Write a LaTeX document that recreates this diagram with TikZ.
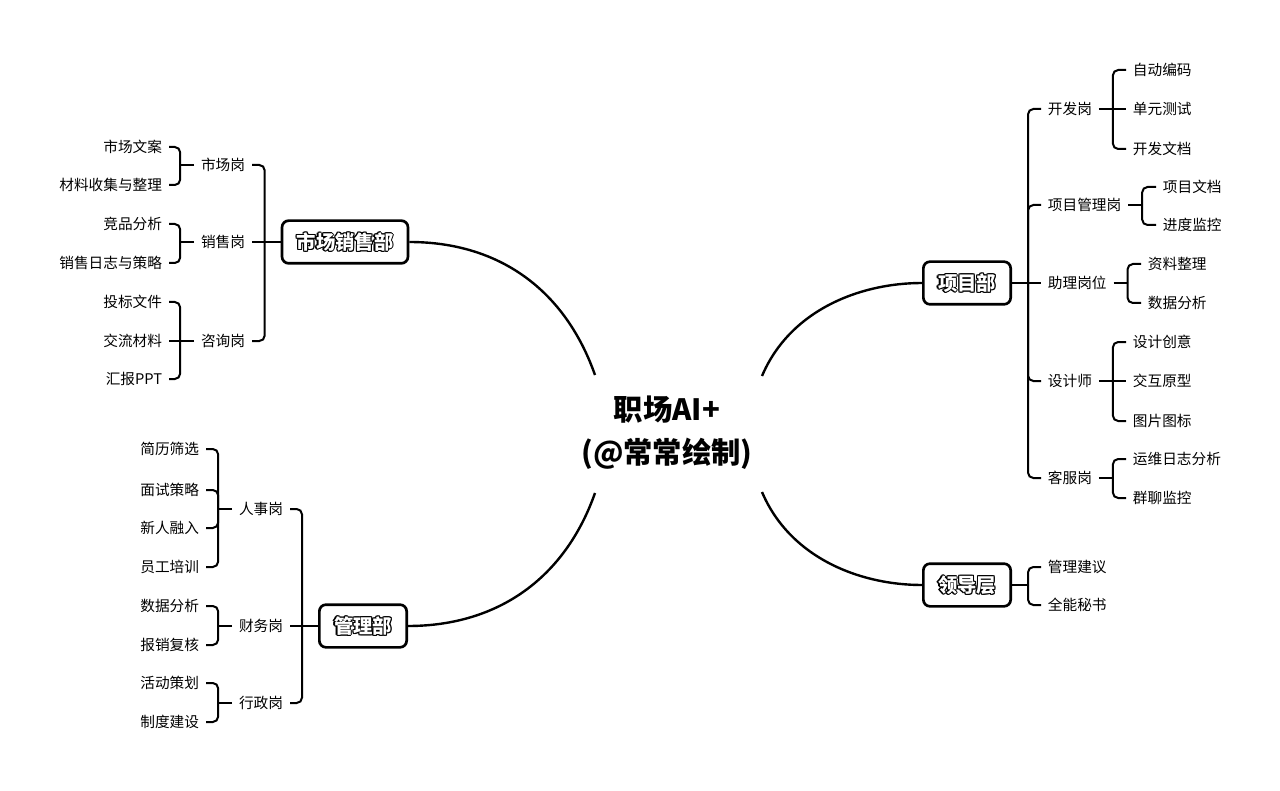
\documentclass[tikz,border=0pt]{standalone}
\usepackage{fontspec}
\setmainfont{Noto Sans CJK SC}
\usetikzlibrary{calc}

% white letters with a black rim
\newcommand{\rimtext}[1]{%
  \rlap{\kern-0.9pt#1}\rlap{\kern0.9pt#1}%
  \rlap{\raisebox{0.9pt}{#1}}\rlap{\raisebox{-0.9pt}{#1}}%
  \rlap{\kern-0.65pt\raisebox{0.65pt}{#1}}\rlap{\kern0.65pt\raisebox{0.65pt}{#1}}%
  \rlap{\kern-0.65pt\raisebox{-0.65pt}{#1}}\rlap{\kern0.65pt\raisebox{-0.65pt}{#1}}%
  \textcolor{white}{#1}}

\begin{document}
\begin{tikzpicture}[x=0.75pt, y=-0.75pt,
  every node/.style={font=\fontsize{11}{13}\selectfont, inner xsep=5pt, inner ysep=2pt},
  dept/.style={draw, line width=2pt, rounded corners=5pt, minimum height=32pt, inner xsep=11pt, font=\fontsize{14.5}{16}\selectfont\bfseries},
  lt/.style={anchor=east},
  rt/.style={anchor=west},
  link/.style={line width=1.5pt, rounded corners=4pt},
  branch/.style={line width=1.8pt}]

\fill[white] (0,0) rectangle (1280,791);
\path[use as bounding box] (0,0) rectangle (1280,791);

% Centre
\node[font=\fontsize{22}{32}\selectfont\bfseries, align=center] (root) at (667,433) {职场AI+\\(@常常绘制)};
\coordinate (rootNW) at ($(root.center)+(-72,-58)$);
\coordinate (rootSW) at ($(root.center)+(-72,60)$);
\coordinate (rootNE) at ($(root.center)+(95,-57)$);
\coordinate (rootSE) at ($(root.center)+(95,59)$);

% Departments
\node[dept] (mkt) at (345,242) {\rimtext{市场销售部}};
\node[dept] (mgmt) at (363,626) {\rimtext{管理部}};
\node[dept] (proj) at (967,283) {\rimtext{项目部}};
\node[dept] (lead) at (967,585) {\rimtext{领导层}};

% Centre to departments
\draw[branch] (mkt.east) .. controls +(90,0) and +(-30,-85) .. (rootNW);
\draw[branch] (mgmt.east) .. controls +(90,0) and +(-30,85) .. (rootSW);
\draw[branch] (proj.west) .. controls +(-62,0) and +(28,-66) .. (rootNE);
\draw[branch] (lead.west) .. controls +(-62,0) and +(28,66) .. (rootSE);

% Marketing and sales
\node[lt] (mkt1) at (252,165) {市场岗};
\node[lt] (mkt2) at (252,242) {销售岗};
\node[lt] (mkt3) at (252,341) {咨询岗};

\node[lt] (mkt1a) at (169,147) {市场文案};
\node[lt] (mkt1b) at (169,185) {材料收集与整理};
\node[lt] (mkt2a) at (169,224) {竞品分析};
\node[lt] (mkt2b) at (169,263) {销售日志与策略};
\node[lt] (mkt3a) at (169,302) {投标文件};
\node[lt] (mkt3b) at (169,341) {交流材料};
\node[lt] (mkt3c) at (169,379) {汇报PPT};

\draw[link] (mkt.west) -- ++(-16,0) coordinate (mktj);
\draw[link] (mktj) |- (mkt1.east);
\draw[link] (mktj) -- (mkt2.east);
\draw[link] (mktj) |- (mkt3.east);

\draw[link] (mkt1.west) -- ++(-14,0) coordinate (mkt1j);
\draw[link] (mkt2.west) -- ++(-14,0) coordinate (mkt2j);
\draw[link] (mkt3.west) -- ++(-14,0) coordinate (mkt3j);
\foreach \c in {a,b} \draw[link] (mkt1j) |- (mkt1\c.east);
\foreach \c in {a,b} \draw[link] (mkt2j) |- (mkt2\c.east);
\draw[link] (mkt3j) |- (mkt3a.east);
\draw[link] (mkt3j) -- (mkt3b.east);
\draw[link] (mkt3j) |- (mkt3c.east);

% Management
\node[lt] (mgmt1) at (290,509) {人事岗};
\node[lt] (mgmt2) at (290,626) {财务岗};
\node[lt] (mgmt3) at (290,703) {行政岗};

\node[lt] (mgmt1a) at (206,449) {简历筛选};
\node[lt] (mgmt1b) at (206,490) {面试策略};
\node[lt] (mgmt1c) at (206,528) {新人融入};
\node[lt] (mgmt1d) at (206,567) {员工培训};
\node[lt] (mgmt2a) at (206,606) {数据分析};
\node[lt] (mgmt2b) at (206,645) {报销复核};
\node[lt] (mgmt3a) at (206,683) {活动策划};
\node[lt] (mgmt3b) at (206,722) {制度建设};

\draw[link] (mgmt.west) -- ++(-16,0) coordinate (mgmtj);
\draw[link] (mgmtj) |- (mgmt1.east);
\draw[link] (mgmtj) -- (mgmt2.east);
\draw[link] (mgmtj) |- (mgmt3.east);

\draw[link] (mgmt1.west) -- ++(-14,0) coordinate (mgmt1j);
\draw[link] (mgmt2.west) -- ++(-14,0) coordinate (mgmt2j);
\draw[link] (mgmt3.west) -- ++(-14,0) coordinate (mgmt3j);
\foreach \c in {a,b,c,d} \draw[link] (mgmt1j) |- (mgmt1\c.east);
\foreach \c in {a,b} \draw[link] (mgmt2j) |- (mgmt2\c.east);
\foreach \c in {a,b} \draw[link] (mgmt3j) |- (mgmt3\c.east);

% Projects
\node[rt] (proj1) at (1041,109) {开发岗};
\node[rt] (proj2) at (1041,205) {项目管理岗};
\node[rt] (proj3) at (1041,283) {助理岗位};
\node[rt] (proj4) at (1041,381) {设计师};
\node[rt] (proj5) at (1041,478) {客服岗};

\node[rt] (proj1a) at (1126,70) {自动编码};
\node[rt] (proj1b) at (1126,109) {单元测试};
\node[rt] (proj1c) at (1126,149) {开发文档};
\node[rt] (proj2a) at (1156,187) {项目文档};
\node[rt] (proj2b) at (1156,225) {进度监控};
\node[rt] (proj3a) at (1141,264) {资料整理};
\node[rt] (proj3b) at (1141,303) {数据分析};
\node[rt] (proj4a) at (1126,342) {设计创意};
\node[rt] (proj4b) at (1126,381) {交互原型};
\node[rt] (proj4c) at (1126,421) {图片图标};
\node[rt] (proj5a) at (1126,459) {运维日志分析};
\node[rt] (proj5b) at (1126,498) {群聊监控};

\draw[link] (proj.east) -- ++(16,0) coordinate (projj);
\foreach \r in {1,2,4,5} \draw[link] (projj) |- (proj\r.west);
\draw[link] (projj) -- (proj3.west);

\draw[link] (proj1.east) -- ++(14,0) coordinate (proj1j);
\draw[link] (proj2.east) -- ++(14,0) coordinate (proj2j);
\draw[link] (proj3.east) -- ++(14,0) coordinate (proj3j);
\draw[link] (proj4.east) -- ++(14,0) coordinate (proj4j);
\draw[link] (proj5.east) -- ++(14,0) coordinate (proj5j);
\draw[link] (proj1j) |- (proj1a.west);
\draw[link] (proj1j) -- (proj1b.west);
\draw[link] (proj1j) |- (proj1c.west);
\foreach \c in {a,b} \draw[link] (proj2j) |- (proj2\c.west);
\foreach \c in {a,b} \draw[link] (proj3j) |- (proj3\c.west);
\draw[link] (proj4j) |- (proj4a.west);
\draw[link] (proj4j) -- (proj4b.west);
\draw[link] (proj4j) |- (proj4c.west);
\foreach \c in {a,b} \draw[link] (proj5j) |- (proj5\c.west);

% Leadership
\node[rt] (lead1) at (1041,567) {管理建议};
\node[rt] (lead2) at (1041,605) {全能秘书};

\draw[link] (lead.east) -- ++(16,0) coordinate (leadj);
\draw[link] (leadj) |- (lead1.west);
\draw[link] (leadj) |- (lead2.west);

\end{tikzpicture}
\end{document}
